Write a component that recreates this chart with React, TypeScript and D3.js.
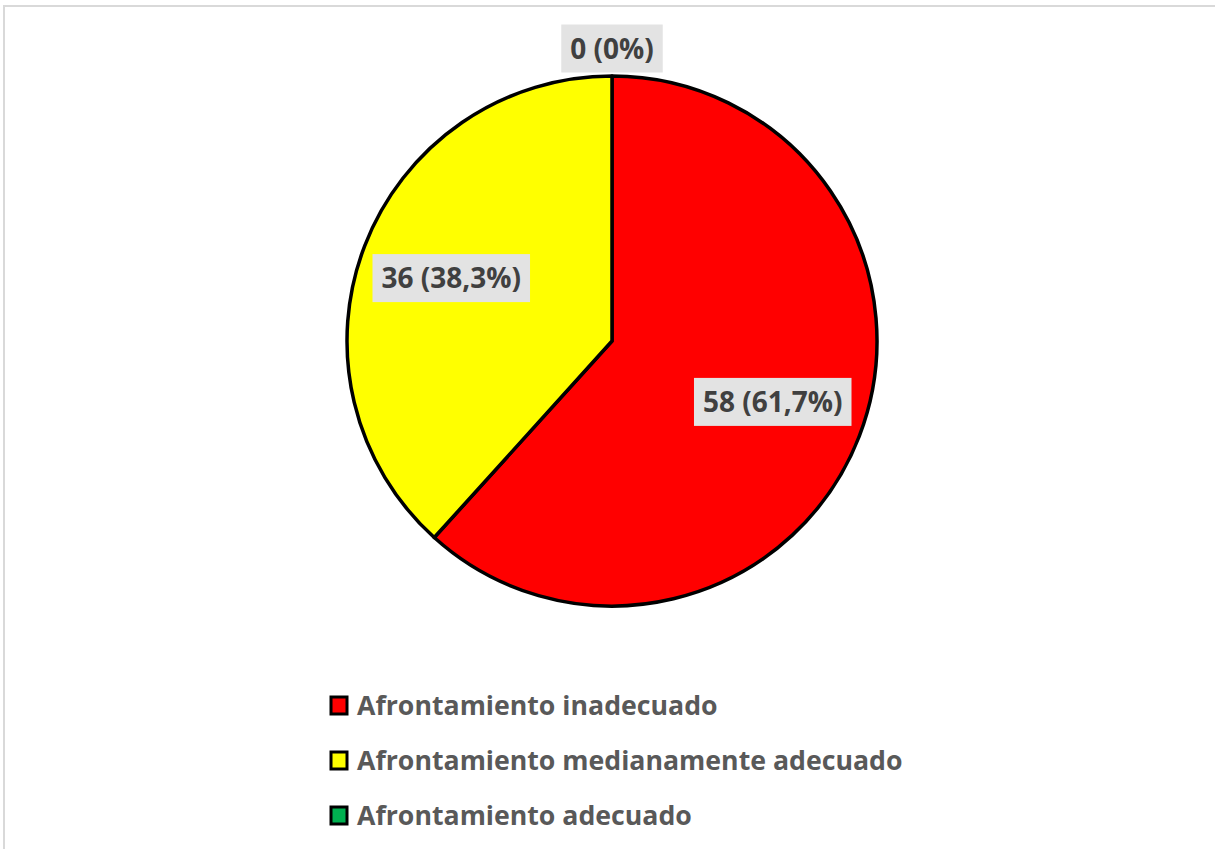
import React, { useEffect, useRef } from "react";
import * as d3 from "d3";

const categories = [
  "Afrontamiento inadecuado",
  "Afrontamiento medianamente adecuado",
  "Afrontamiento adecuado",
];
const counts = [58, 36, 0];
const percentLabels = ["61,7%", "38,3%", "0%"];
const sliceColors = ["#FF0000", "#FFFF00", "#00B050"];

const W = 1215;
const H = 849;

const App: React.FC = () => {
  const ref = useRef<SVGSVGElement | null>(null);

  useEffect(() => {
    const svg = d3.select(ref.current);
    svg.selectAll("*").remove();

    // chart area frame (cut off on right/bottom like the source)
    svg
      .append("rect")
      .attr("x", 4)
      .attr("y", 6)
      .attr("width", W + 10)
      .attr("height", H + 10)
      .attr("fill", "#fff")
      .attr("stroke", "#d9d9d9")
      .attr("stroke-width", 2);

    const cx = 612;
    const cy = 341;
    const r = 265;

    const data = categories.map((c, i) => ({
      name: c,
      value: counts[i],
      pct: percentLabels[i],
      color: sliceColors[i],
    }));

    const pie = d3
      .pie<(typeof data)[number]>()
      .sort(null)
      .value((d) => d.value);
    const arcs = pie(data);

    const arc = d3
      .arc<d3.PieArcDatum<(typeof data)[number]>>()
      .innerRadius(0)
      .outerRadius(r);

    const g = svg.append("g").attr("transform", `translate(${cx},${cy})`);

    g.selectAll("path.slice")
      .data(arcs.filter((a) => a.value > 0))
      .enter()
      .append("path")
      .attr("class", "slice")
      .attr("d", arc)
      .attr("fill", (d) => d.data.color)
      .attr("stroke", "#000")
      .attr("stroke-width", 3.5)
      .attr("stroke-linejoin", "round");

    const inLabel = d3
      .arc<d3.PieArcDatum<(typeof data)[number]>>()
      .innerRadius(r * 0.65 * 2)
      .outerRadius(0);
    const outLabel = d3
      .arc<d3.PieArcDatum<(typeof data)[number]>>()
      .innerRadius(r * 1.1 * 2)
      .outerRadius(0);

    const labels = g
      .selectAll("g.lbl")
      .data(arcs)
      .enter()
      .append("g")
      .attr("class", "lbl")
      .attr("transform", (d) => {
        const [x, y] = d.value > 0 ? inLabel.centroid(d) : outLabel.centroid(d);
        return `translate(${x},${y - 1})`;
      });

    labels.each(function (d) {
      const sel = d3.select(this);
      const rect = sel.append("rect").attr("fill", "#e3e3e3");
      const text = sel
        .append("text")
        .attr("text-anchor", "middle")
        .attr("dy", "0.36em")
        .attr("font-family", "'Open Sans', sans-serif")
        .attr("font-weight", "bold")
        .attr("font-size", 28)
        .attr("fill", "#404040")
        .text(`${d.data.value} (${d.data.pct})`);
      const bb = (text.node() as SVGTextElement).getBBox();
      rect
        .attr("x", bb.x - 9)
        .attr("y", -24)
        .attr("width", bb.width + 18)
        .attr("height", 48);
    });

    // legend
    const legend = svg
      .append("g")
      .selectAll("g")
      .data(data)
      .enter()
      .append("g")
      .attr("transform", (_, i) => `translate(331,${705 + i * 55})`);

    legend
      .append("rect")
      .attr("x", 0)
      .attr("y", -8)
      .attr("width", 16)
      .attr("height", 17)
      .attr("fill", (d) => d.color)
      .attr("stroke", "#000")
      .attr("stroke-width", 3);

    legend
      .append("text")
      .attr("x", 26)
      .attr("dy", "0.36em")
      .attr("font-family", "'Open Sans', sans-serif")
      .attr("font-weight", "bold")
      .attr("font-size", 26.7)
      .attr("fill", "#595959")
      .text((d) => d.name);
  }, []);

  return (
    <svg
      ref={ref}
      width={W}
      height={H}
      style={{ position: "absolute", left: 0, top: 0, display: "block" }}
    />
  );
};

export default App;
